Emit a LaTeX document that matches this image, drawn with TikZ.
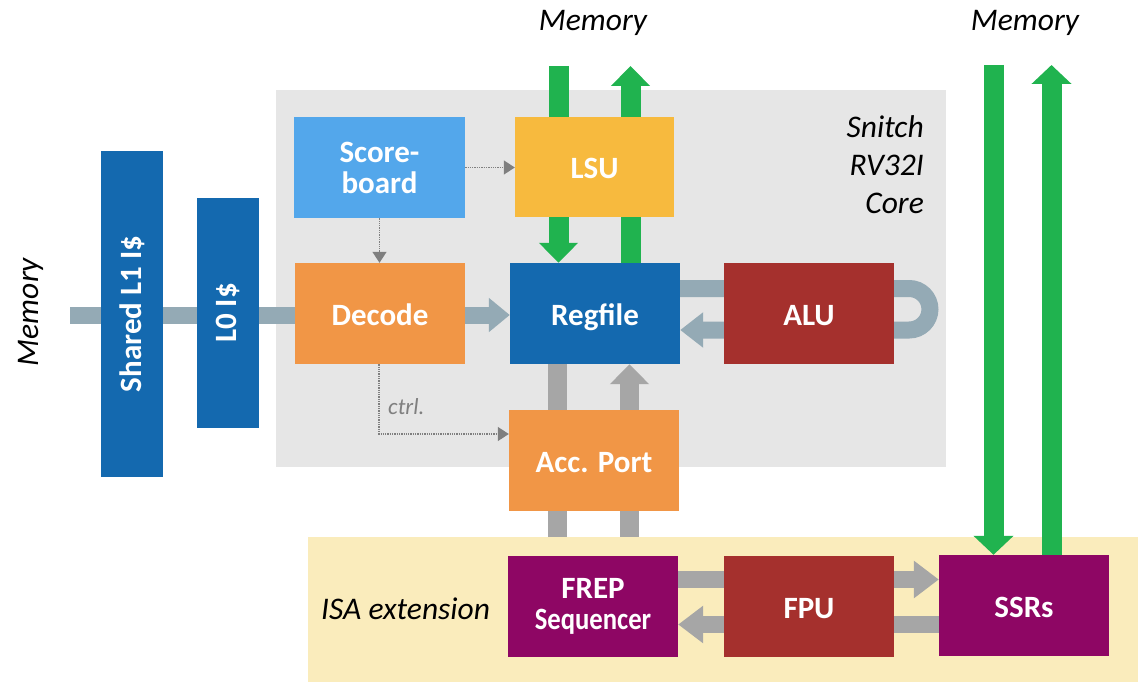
\documentclass[tikz,border=0pt]{standalone}
\usepackage{fontspec}
\setmainfont{Carlito}
\usetikzlibrary{arrows.meta,calc}
\pgfdeclarelayer{lA}\pgfdeclarelayer{lB}\pgfdeclarelayer{lC}\pgfdeclarelayer{lD}
\pgfsetlayers{lA,lB,lC,lD,main}
\definecolor{coreGray}{HTML}{E6E6E6}
\definecolor{isaYellow}{HTML}{FAECBC}
\definecolor{sbBlue}{HTML}{53A7EB}
\definecolor{lsuYellow}{HTML}{F7BA3E}
\definecolor{decOrange}{HTML}{F19646}
\definecolor{rfBlue}{HTML}{1469AF}
\definecolor{aluRed}{HTML}{A5302D}
\definecolor{frepPurple}{HTML}{8E0664}
\definecolor{linkBlue}{HTML}{94AAB5}
\definecolor{linkGray}{HTML}{A6A6A6}
\definecolor{memGreen}{HTML}{20B34F}
\definecolor{dotGray}{HTML}{7F7F7F}
\begin{document}
\begin{tikzpicture}[x=1pt,y=-1pt,
  box/.style={rectangle, inner sep=0pt, text=white, align=center,
    font=\fontsize{31}{31}\selectfont\bfseries},
  wbox/.style={box, minimum width=170, minimum height=101},
  oneline/.style={text height=23, text depth=0},
  lbl/.style={inner sep=0pt, font=\fontsize{31.5}{38}\selectfont\itshape},
  garrow/.style={draw=memGreen, line width=20, -{Triangle[width=38,length=20]}},
  barrow/.style={draw=linkBlue, line width=17, -{Triangle[width=33,length=21]}},
  bline/.style={draw=linkBlue, line width=17},
  grarrow/.style={draw=linkGray, line width=19, -{Triangle[width=38,length=20]}},
  grline/.style={draw=linkGray, line width=19},
  fparrow/.style={draw=linkGray, line width=17, -{Triangle[width=36,length=25]}},
  dotarrow/.style={draw=dotGray, line width=1.3, densely dotted, -{Triangle[width=14,length=11]}}
]
\useasboundingbox (0,0) rectangle (1145,682);

% containers
\begin{pgfonlayer}{lA}
  \node[fill=coreGray, inner sep=0, minimum width=670, minimum height=377] (core) at (611,278.5) {};
\end{pgfonlayer}
\begin{pgfonlayer}{lC}
  \node[fill=isaYellow, inner sep=0, minimum width=830, minimum height=145] (isa) at (723,609.5) {};
\end{pgfonlayer}

% blocks
\node[box, fill=rfBlue, minimum width=62, minimum height=326] (l1) at (132,314) {\rotatebox{90}{Shared L1 I\$}};
\node[box, fill=rfBlue, minimum width=62, minimum height=230] (l0) at (228,313) {\rotatebox{90}{L0 I\$}};
\node[wbox, fill=sbBlue, minimum width=171] (sb) at (379.5,167.5) {Score-\\board};
\node[wbox, oneline, fill=lsuYellow, minimum width=159, minimum height=100] (lsu) at (594.5,167) {LSU};
\node[wbox, oneline, fill=decOrange] (dec) at (380,313.5) {Decode};
\node[wbox, oneline, fill=rfBlue] (rf) at (595,313.5) {Regfile};
\node[wbox, oneline, fill=aluRed] (alu) at (809,313.5) {ALU};
\node[wbox, oneline, fill=decOrange] (acc) at (594,460.5) {Acc. Port};
\node[wbox, fill=frepPurple] (frep) at (593,606.5) {FREP\\\scalebox{0.86}[1]{Sequencer}};
\node[wbox, oneline, fill=aluRed] (fpu) at (809,606.5) {FPU};
\node[wbox, oneline, fill=frepPurple] (ssr) at (1024,605.5) {SSRs};

% labels
\node[lbl, anchor=base] (memA) at (593,31) {Memory};
\node[lbl, anchor=base] (memB) at (1025,31) {Memory};
\node[lbl, rotate=90] (memC) at (31,312) {Memory};
\node[lbl, anchor=base east] (sn1) at (924,137) {Snitch};
\node[lbl, anchor=base east] (sn2) at (924,175) {RV32I};
\node[lbl, anchor=base east] (sn3) at (924,213) {Core};
\node[lbl, anchor=west] (isalbl) at (321,609) {ISA extension};
\node[inner sep=0pt, anchor=base west, text=dotGray, font=\fontsize{23}{24}\selectfont\itshape] (ctrl) at (388,414) {ctrl.};

% helper coordinates
\coordinate (mt1) at (558.5,66);
\coordinate (mt2) at (630.5,66);
\coordinate (mt3) at (993.5,65);
\coordinate (mt4) at (1051.5,65);
\coordinate (memL) at (70,315);
\coordinate (xL) at (557.5,0);
\coordinate (xR) at (629.5,0);
\coordinate (yT) at (0,579.5);
\coordinate (yB) at (0,624.5);
\coordinate (cc) at (379,434);

% hidden shafts (under the ISA box)
\begin{pgfonlayer}{lB}
  \draw[grline] (xL |- acc.south) -- (xL |- frep.north);
  \draw[grline] (xR |- acc.south) -- (xR |- frep.north);
\end{pgfonlayer}

\begin{pgfonlayer}{lD}
  % memory links
  \draw[garrow] (mt1) -- (mt1 |- rf.north);
  \draw[garrow] (mt2 |- rf.north) -- (mt2);
  \draw[garrow, -{Triangle[width=39,length=19]}] (mt3) -- (mt3 |- ssr.north);
  \draw[garrow, -{Triangle[width=39,length=19]}] (mt4 |- ssr.north) -- (mt4);
  % instruction path
  \draw[bline] (memL) -- (memL -| dec.west);
  \draw[barrow] ($(dec.east)+(0,1.5)$) -- ($(rf.west)+(0,1.5)$);
  % ALU loop
  \draw[barrow, -{Triangle[width=34,length=23]}] ($(rf.east)+(0,-25)$) -- ($(alu.east)+(15,-25)$)
     arc[start angle=-90, end angle=90, radius=20.75] -- ($(rf.east)+(0,16.5)$);
  % regfile <-> acc port
  \draw[grline] (xL |- rf.south) -- (xL |- acc.north);
  \draw[grarrow] (xR |- acc.north) -- (xR |- rf.south);
  % FP subsystem
  \draw[fparrow] (yT -| frep.east) -- (yT -| ssr.west);
  \draw[fparrow] (yB -| ssr.west) -- (yB -| frep.east);
  % control (dotted)
  \draw[dotarrow] (sb.east) -- (sb.east -| lsu.west);
  \draw[dotarrow] (sb.south) -- (sb.south |- dec.north);
  \draw[dotarrow] (cc |- dec.south) -- (cc) -- (cc -| acc.west);
\end{pgfonlayer}
\end{tikzpicture}
\end{document}
